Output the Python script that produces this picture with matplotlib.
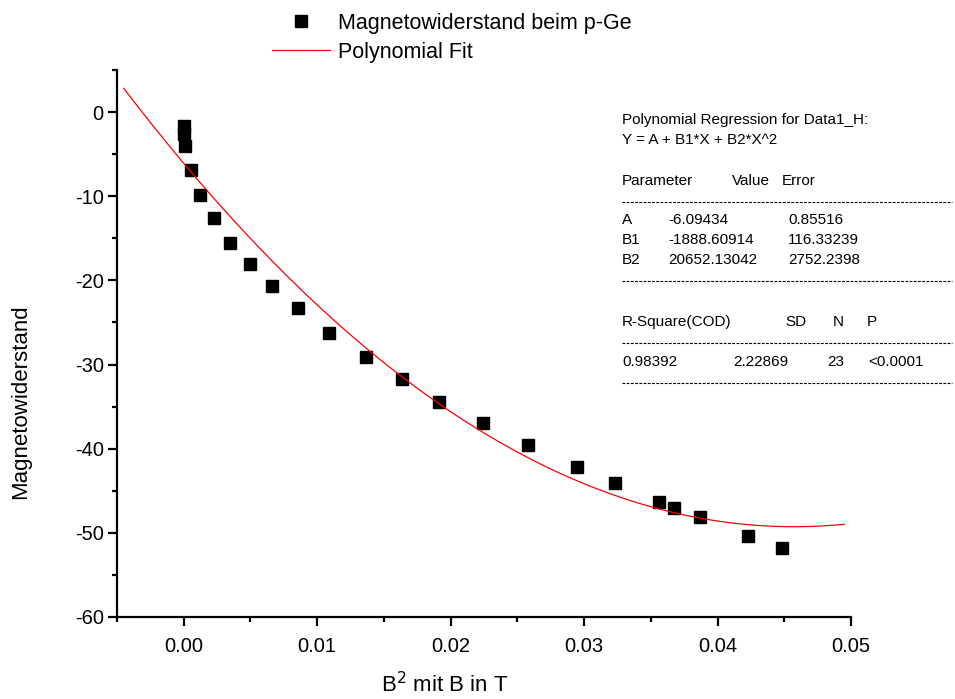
import numpy as np
import matplotlib
matplotlib.use('Agg')
import matplotlib.pyplot as plt
from matplotlib.lines import Line2D
from matplotlib.ticker import MultipleLocator

plt.rcParams['font.family'] = ['Liberation Sans', 'DejaVu Sans']

# measured magnetoresistance of p-Ge vs B^2
b_sq = [0.0, 0.00003, 0.0001, 0.00054, 0.00125, 0.00229, 0.0035, 0.0050,
        0.0066, 0.0086, 0.0109, 0.01366, 0.01634, 0.01916, 0.0224, 0.02582,
        0.02948, 0.03231, 0.0356, 0.03674, 0.0387, 0.0423, 0.0448]
mr = [-1.6, -2.6, -4.0, -6.9, -9.8, -12.6, -15.5, -18.1,
      -20.7, -23.3, -26.3, -29.1, -31.7, -34.4, -37.0, -39.6,
      -42.2, -44.1, -46.3, -47.1, -48.1, -50.4, -51.8]

# quadratic fit parameters
A, B1, B2 = -6.09434, -1888.60914, 20652.13042
A_err, B1_err, B2_err = 0.85516, 116.33239, 2752.2398
r_sq, sd, n_pts = 0.98392, 2.22869, 23

W, H = 955, 699
fig = plt.figure(figsize=(W / 100, H / 100), dpi=100)
ax = fig.add_axes([117 / W, 1 - 617 / H, 734 / W, 547 / H])

ax.plot(b_sq, mr, 's', color='black', markersize=8.5, label='Magnetowiderstand beim p-Ge')
xf = np.linspace(-0.0045, 0.0495, 300)
ax.plot(xf, A + B1 * xf + B2 * xf ** 2, color='red', linewidth=0.9, label='Polynomial Fit')

ax.set_xlim(-0.005, 0.05)
ax.set_ylim(-60, 5)
ax.xaxis.set_major_locator(MultipleLocator(0.01))
ax.xaxis.set_minor_locator(MultipleLocator(0.005))
ax.yaxis.set_major_locator(MultipleLocator(10))
ax.yaxis.set_minor_locator(MultipleLocator(5))
ax.xaxis.set_major_formatter(plt.FuncFormatter(lambda v, p: f'{v:.2f}'))
ax.yaxis.set_major_formatter(plt.FuncFormatter(lambda v, p: f'{v:.0f}'))

for s in ['top', 'right']:
    ax.spines[s].set_visible(False)
for s in ['left', 'bottom']:
    ax.spines[s].set_linewidth(1.6)
ax.tick_params(which='major', direction='out', length=6.5, width=1.6, labelsize=14.5)
ax.tick_params(which='minor', direction='out', length=3.8, width=1.6)
ax.tick_params(axis='x', pad=8)
ax.tick_params(axis='y', pad=3)

ax.set_xlabel(r'B$^2$ mit B in T', fontsize=16)
ax.xaxis.set_label_coords(0.446, -0.1)
ax.set_ylabel('Magnetowiderstand', fontsize=16)
ax.yaxis.set_label_coords(-0.117, 0.393)

fig.legend(loc='upper left', bbox_to_anchor=(272 / W, 1 - 13 / H), frameon=False,
           fontsize=15.5, handlelength=2.7, handletextpad=0.35, labelspacing=0.35,
           borderpad=0, borderaxespad=0, numpoints=1)

# fit report
def put(x, y, s):
    fig.text(x / W, 1 - y / H, s, fontsize=11, va='center', ha='left')

def dashes(y):
    fig.add_artist(Line2D([622 / W, 952 / W], [1 - y / H, 1 - y / H], color='black',
                          linewidth=0.8, linestyle=(0, (2.5, 1.3))))

put(622, 120, 'Polynomial Regression for Data1_H:')
put(622, 140, 'Y = A + B1*X + B2*X^2')
put(622, 181, 'Parameter')
put(732, 181, 'Value')
put(782, 181, 'Error')
dashes(202)
rows = [('A', A, A_err), ('B1', B1, B1_err), ('B2', B2, B2_err)]
for i, (name, val, err) in enumerate(rows):
    y = 220 + 20 * i
    put(622, y, name)
    put(668, y, f'{val}')
    put(788, y, f'{err}')
dashes(281)
put(622, 322, 'R-Square(COD)')
put(785, 322, 'SD')
put(833, 322, 'N')
put(867, 322, 'P')
dashes(343)
put(622, 362, f'{r_sq}')
put(733, 362, f'{sd}')
put(827, 362, f'{n_pts}')
put(868, 362, '<0.0001')
dashes(383)

fig.savefig('out.png', dpi=100)
